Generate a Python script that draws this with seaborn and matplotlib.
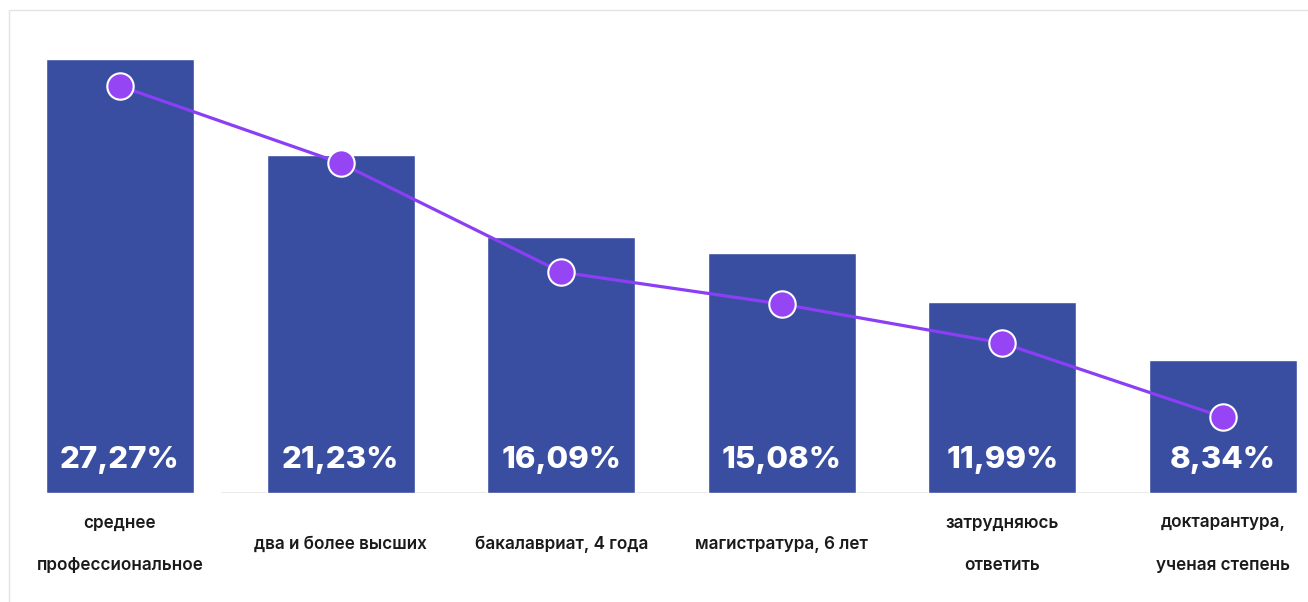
import matplotlib
matplotlib.use("Agg")
import matplotlib.pyplot as plt
from matplotlib.patches import Rectangle
import seaborn as sns
import pandas as pd

# Education levels and their shares (%)
categories = [
    "среднее\nпрофессиональное",
    "два и более высших",
    "бакалавриат, 4 года",
    "магистратура, 6 лет",
    "затрудняюсь\nответить",
    "доктарантура,\nученая степень",
]
shares = [27.27, 21.23, 16.09, 15.08, 11.99, 8.34]
value_labels = ["27,27%", "21,23%", "16,09%", "15,08%", "11,99%", "8,34%"]
# Trend line drawn over the bars
trend = [25.57, 20.73, 13.88, 11.87, 9.42, 4.77]

BAR_COLOR = "#3a4ea1"
LINE_COLOR = "#8a3ff5"
MARKER_COLOR = "#9645f5"

sns.set_theme(style="white")
plt.rcParams["font.family"] = ["Inter", "DejaVu Sans"]

df = pd.DataFrame({"category": categories, "share": shares, "trend": trend})

fig = plt.figure(figsize=(13.08, 6.02), dpi=100)
fig.patch.set_facecolor("white")

# Thin frame around the card
fig.patches.append(Rectangle((9 / 1308, -0.1), 1.2, (592 / 602) + 0.1,
                             transform=fig.transFigure, fill=False,
                             edgecolor="#e3e3e3", linewidth=1.0, zorder=0))

ax = fig.add_axes([0.0, 109 / 602, 1.0, 493 / 602])

sns.barplot(data=df, x="category", y="share", color=BAR_COLOR,
            saturation=1, width=0.671, ax=ax, zorder=2)

sns.pointplot(data=df, x="category", y="trend", color=LINE_COLOR,
              markers="o", ax=ax, linewidth=2.3,
              markersize=19, markerfacecolor=MARKER_COLOR,
              markeredgecolor="white", markeredgewidth=1.5)
for line in ax.lines:
    line.set_zorder(4)
for coll in ax.collections:
    coll.set_zorder(5)

# Baseline under the bars
ax.hlines(0, 0.46, 5.34, color="#e6e6e6", linewidth=1.2, zorder=1)

for i, lbl in enumerate(value_labels):
    ax.text(i, 2.1, lbl, ha="center", va="center", color="white",
            fontsize=22.5, fontweight="heavy", zorder=6)

ax.set_xlim(-120 / 220.6, (1308 - 120) / 220.6)
ax.set_ylim(0, 493 / (434 / 27.27))

ax.set_xlabel("")
ax.set_ylabel("")
ax.set_yticks([])
ax.tick_params(axis="x", length=0, pad=37)
ax.set_xticks(range(len(categories)))
ax.set_xticklabels(categories, fontsize=12.3, fontweight="semibold",
                   color="#1a1a1a", linespacing=3.0, va="center")
for s in ax.spines.values():
    s.set_visible(False)
ax.set_facecolor("none")

fig.savefig("out.png", dpi=100, facecolor="white")
